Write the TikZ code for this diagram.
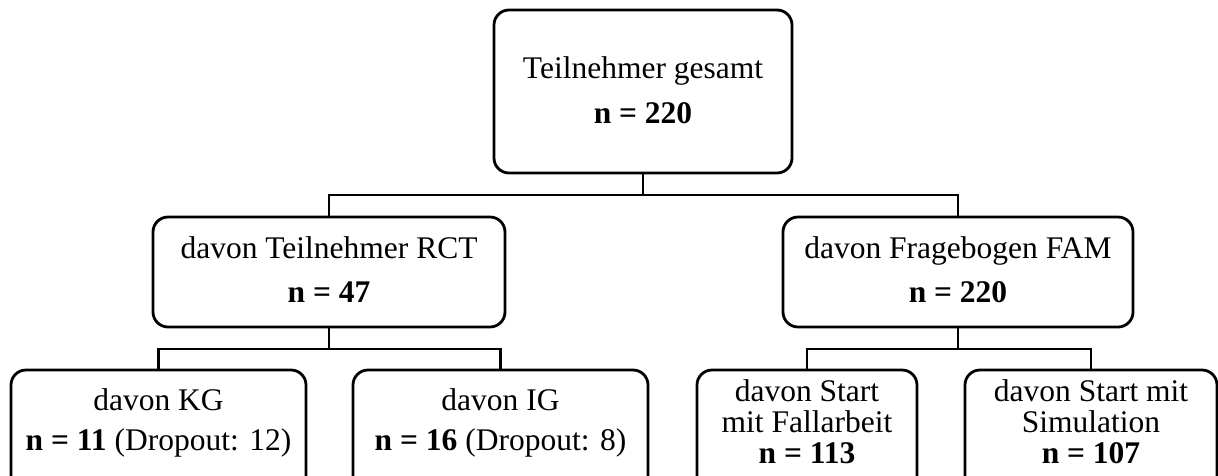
\documentclass[tikz,border=0pt]{standalone}
\usepackage{fontspec}
\setmainfont{Liberation Serif}
\begin{document}
\begin{tikzpicture}[x=1pt,y=-1pt,
  box/.style={draw=black, line width=2.8pt, rounded corners=15pt, inner sep=0pt},
  txt/.style={anchor=base, inner sep=0pt, font=\fontsize{31.5}{38}\selectfont},
  link/.style={draw=black, line width=2.8pt}]
\useasboundingbox (0,0) rectangle (1218,475);
\clip (0,0) rectangle (1218,475);
\fill[white] (0,0) rectangle (1218,475);

% boxes
\node[box, minimum width=298pt, minimum height=163pt] (top) at (643,91.5) {};
\node[box, minimum width=352pt, minimum height=110pt] (rct) at (329,272) {};
\node[box, minimum width=350pt, minimum height=110pt] (fam) at (958,272) {};
\node[box, minimum width=295pt, minimum height=140pt] (kg)   at (158.5,440) {};
\node[box, minimum width=295pt, minimum height=140pt] (ig)   at (500.5,440) {};
\node[box, minimum width=220pt, minimum height=140pt] (fall) at (807,440) {};
\node[box, minimum width=252pt, minimum height=140pt] (sim)  at (1091,440) {};

% texts
\node[txt] (top1) at (643,78) {Teilnehmer gesamt};
\node[txt] (top2) at (643,123) {\bfseries n = 220};
\node[txt] (rct1) at (329,258) {davon Teilnehmer RCT};
\node[txt] (rct2) at (329,302) {\bfseries n = 47};
\node[txt] (fam1) at (958,258) {davon Fragebogen FAM};
\node[txt] (fam2) at (958,302) {\bfseries n = 220};
\node[txt] (kg1) at (158.5,410) {davon KG};
\node[txt] (kg2) at (158.5,450) {\textbf{n = 11} (Dropout: 12)};
\node[txt] (ig1) at (500.5,410) {davon IG};
\node[txt] (ig2) at (500.5,450) {\textbf{n = 16} (Dropout: 8)};
\node[txt] (fall1) at (807,401) {davon Start};
\node[txt] (fall2) at (807,432) {mit Fallarbeit};
\node[txt] (fall3) at (807,463) {\bfseries n = 113};
\node[txt] (sim1) at (1091,401) {davon Start mit};
\node[txt] (sim2) at (1091,432) {Simulation};
\node[txt] (sim3) at (1091,463) {\bfseries n = 107};

% connectors
\coordinate (b1) at (643,195);
\coordinate (b2) at (329,349);
\coordinate (b3) at (958,349);
\draw[link] (top.south) -- (b1);
\draw[link] (rct.north) |- (b1) -| (fam.north);
\draw[link] (rct.south) -- (b2);
\draw[link] (kg.north) |- (b2) -| (ig.north);
\draw[link] (fam.south) -- (b3);
\draw[link] (fall.north) |- (b3) -| (sim.north);
\end{tikzpicture}
\end{document}
